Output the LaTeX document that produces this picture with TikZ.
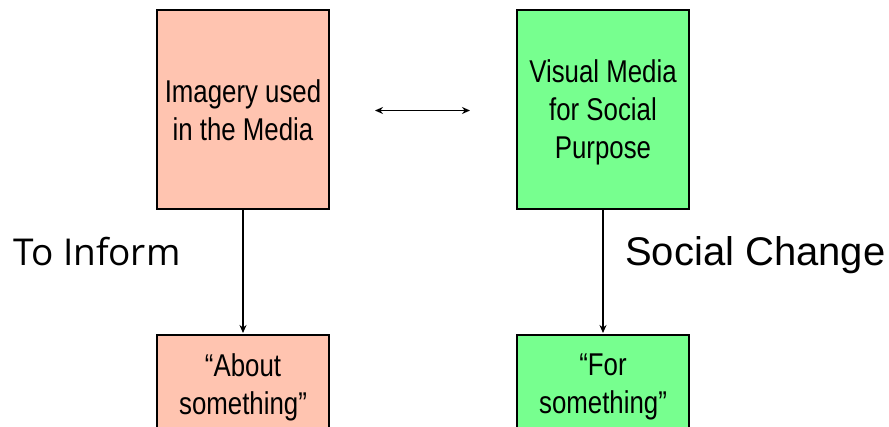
\documentclass[tikz,border=0pt]{standalone}
\usepackage{fontspec}
\setmainfont{Liberation Sans}
\newfontfamily\narrowfont[FakeStretch=0.82]{Liberation Sans}
\newfontfamily\labelfont{Open Sans}
\usetikzlibrary{arrows.meta}
\definecolor{peach}{RGB}{255,196,176}
\definecolor{mint}{RGB}{119,255,143}
\tikzset{
  box/.style={draw=black, line width=1.4pt},
  boxtext/.style={align=center, inner sep=0pt,
    font=\narrowfont\fontsize{31.5}{38}\selectfont},
  tip/.style={Stealth[length=8pt,width=7pt]},
  link/.style={line width=1.5pt, -{Stealth[length=8pt,width=7pt]}},
  bothlink/.style={line width=1.5pt, {Stealth[length=8pt,width=7pt]}-{Stealth[length=8pt,width=7pt]}},
  sidelabel/.style={anchor=base west, inner sep=0pt}
}
\begin{document}
\begin{tikzpicture}[x=1pt,y=-1pt]
\clip (0,0) rectangle (889,427);
\fill[white] (0,0) rectangle (889,427);
% upper boxes
\filldraw[box, fill=peach] (157,10) rectangle (329,209);
\filldraw[box, fill=mint] (517,10) rectangle (689,209);
% lower boxes run past the bottom edge
\filldraw[box, fill=peach] (157,335) rectangle (329,450);
\filldraw[box, fill=mint] (517,335) rectangle (689,450);
% anchors for connectors
\coordinate (imgbot) at (243,209);
\coordinate (aboutTop) at (243,333);
\coordinate (visbot) at (603,209);
\coordinate (forTop) at (603,333);
\coordinate (lnkL) at (375,110.5);
\coordinate (lnkR) at (470,110.5);
% box texts
\node[boxtext] (imagery) at (243,110) {Imagery used\\in the Media};
\node[boxtext] (visual) at (603,112) {Visual Media\\for Social\\Purpose};
\node[boxtext] (about) at (243,387) {“About\\something”};
\node[boxtext] (forsth) at (603,387) {“For\\something”};
% connectors
\draw[bothlink] (lnkL) -- (lnkR);
\draw[link] (imgbot) -- (aboutTop);
\draw[link] (visbot) -- (forTop);
% side labels
\node[sidelabel, font=\labelfont\fontsize{37}{44}\selectfont] (inform) at (13,266) {To Inform};
\node[sidelabel, font=\fontsize{40}{48}\selectfont] (change) at (625,266) {Social Change};
\end{tikzpicture}
\end{document}
